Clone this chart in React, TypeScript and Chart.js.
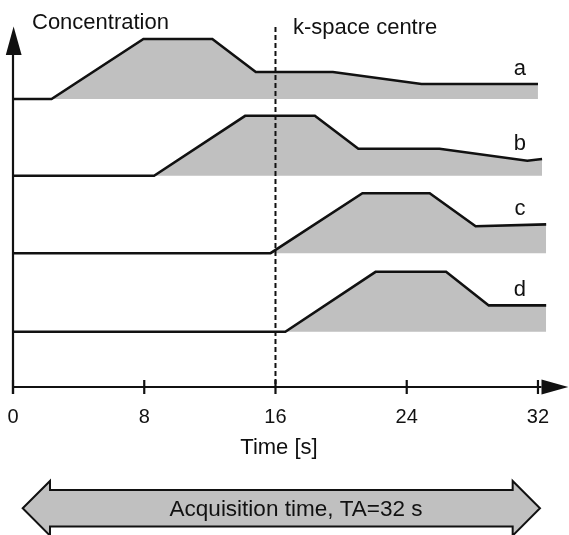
import React, { useEffect, useRef } from 'react';
import { Chart, registerables } from 'chart.js';

Chart.register(...registerables);

// ---- data (time in s, concentration relative to each curve's own baseline; peak = 1) ----
const timeTicks = [0, 8, 16, 24, 32];
const curveNames = ['a', 'b', 'c', 'd'];

const aTimes = [0, 2.35, 7.95, 12.15, 14.8, 19.5, 24.9, 32.0];
const aLevels = [0, 0, 1, 1, 0.45, 0.45, 0.25, 0.25];

const bTimes = [0, 8.6, 14.15, 18.4, 21.05, 26.0, 31.35, 32.25];
const bLevels = [0, 0, 1, 1, 0.45, 0.45, 0.25, 0.28];

const cTimes = [0, 15.7, 21.3, 25.4, 28.2, 32.5];
const cLevels = [0, 0, 1, 1, 0.45, 0.48];

const dTimes = [0, 16.6, 22.1, 26.4, 29.0, 32.5];
const dLevels = [0, 0, 1, 1, 0.44, 0.44];

// each curve is drawn on its own lane of the concentration axis
const laneOffsets = [4.8, 3.52, 2.23, 0.92];

const kSpaceCentre = 16;
const acquisitionTime = 32;
const xMax = 33.8;
const yMax = 6;

const FONT = '"Liberation Sans", Arial, Helvetica, sans-serif';
const INK = '#111111';
const GREY = '#c0c0c0';

const curveTimes = [aTimes, bTimes, cTimes, dTimes];
const curveLevels = [aLevels, bLevels, cLevels, dLevels];

const decorPlugin = {
  id: 'decor',
  afterDraw(chart: any) {
    const { ctx, chartArea } = chart;
    const x = chart.scales.x;
    const y = chart.scales.y;
    ctx.save();
    ctx.strokeStyle = INK;
    ctx.fillStyle = INK;

    // k-space centre dashed line
    const xk = x.getPixelForValue(kSpaceCentre);
    ctx.lineWidth = 2;
    ctx.setLineDash([5, 3]);
    ctx.beginPath();
    ctx.moveTo(xk, chartArea.top);
    ctx.lineTo(xk, chartArea.bottom);
    ctx.stroke();
    ctx.setLineDash([]);

    // x axis with arrow
    const y0 = y.getPixelForValue(0);
    const x0 = x.getPixelForValue(0);
    const xEnd = x.getPixelForValue(xMax);
    ctx.lineWidth = 2.2;
    ctx.beginPath();
    ctx.moveTo(x0, y0);
    ctx.lineTo(xEnd - 26, y0);
    ctx.stroke();
    timeTicks.forEach((t) => {
      const px = x.getPixelForValue(t);
      ctx.beginPath();
      ctx.moveTo(px, y0 - 7);
      ctx.lineTo(px, y0 + 7);
      ctx.stroke();
    });
    ctx.beginPath();
    ctx.moveTo(xEnd + 0.8, y0);
    ctx.lineTo(xEnd - 26, y0 - 7.5);
    ctx.lineTo(xEnd - 26, y0 + 7.5);
    ctx.closePath();
    ctx.fill();

    // y axis with arrow
    const yTop = chartArea.top;
    ctx.beginPath();
    ctx.moveTo(x0, y0 + 7);
    ctx.lineTo(x0, yTop + 27);
    ctx.stroke();
    ctx.beginPath();
    ctx.moveTo(x0 + 0.6, yTop - 0.5);
    ctx.lineTo(x0 - 7.2, yTop + 28);
    ctx.lineTo(x0 + 8.6, yTop + 28);
    ctx.closePath();
    ctx.fill();

    // texts
    ctx.font = `22px ${FONT}`;
    ctx.textAlign = 'left';
    ctx.textBaseline = 'alphabetic';
    ctx.fillText('Concentration', 32, 28.5);
    ctx.fillText('k-space centre', 293, 33.5);

    // curve labels
    chart.data.datasets.forEach((ds: any, i: number) => {
      const meta = chart.getDatasetMeta(i);
      const last = meta.data[meta.data.length - 1];
      ctx.textAlign = 'center';
      ctx.fillText(curveNames[i], x.getPixelForValue(30.9), last.y - 9);
    });

    // Time axis title
    ctx.textAlign = 'center';
    ctx.textBaseline = 'alphabetic';
    ctx.fillText('Time [s]', x.getPixelForValue(kSpaceCentre) + 3.5, 454.3);

    // acquisition time double arrow
    const L = x.getPixelForValue(0) + 9.7;
    const R = x.getPixelForValue(acquisitionTime) + 2;
    const cy = 508.3;
    const head = 27.3;
    const shaft = 18.3;
    ctx.beginPath();
    ctx.moveTo(L, cy);
    ctx.lineTo(L + head, cy - head);
    ctx.lineTo(L + head, cy - shaft);
    ctx.lineTo(R - head, cy - shaft);
    ctx.lineTo(R - head, cy - head);
    ctx.lineTo(R, cy);
    ctx.lineTo(R - head, cy + head);
    ctx.lineTo(R - head, cy + shaft);
    ctx.lineTo(L + head, cy + shaft);
    ctx.lineTo(L + head, cy + head);
    ctx.closePath();
    ctx.fillStyle = GREY;
    ctx.fill();
    ctx.lineWidth = 2;
    ctx.lineJoin = 'miter';
    ctx.strokeStyle = INK;
    ctx.stroke();
    ctx.fillStyle = INK;
    ctx.font = `22.5px ${FONT}`;
    ctx.textAlign = 'center';
    ctx.textBaseline = 'alphabetic';
    ctx.fillText('Acquisition time, TA=32 s', 296, 516);

    ctx.restore();
  },
};

export default function App() {
  const canvasRef = useRef<HTMLCanvasElement | null>(null);

  useEffect(() => {
    const canvas = canvasRef.current;
    if (!canvas) return;
    const datasets = curveTimes.map((times, i) => ({
      label: curveNames[i],
      data: times.map((t, j) => ({ x: t, y: laneOffsets[i] + curveLevels[i][j] })),
      borderColor: INK,
      borderWidth: 2.6,
      backgroundColor: GREY,
      fill: { value: laneOffsets[i] },
      pointRadius: 0,
      tension: 0,
      clip: false,
    }));
    const chart = new Chart(canvas, {
      type: 'line',
      data: { datasets },
      options: {
        responsive: false,
        animation: false,
        devicePixelRatio: 1,
        layout: { padding: { left: 13, right: 1.5, top: 27, bottom: 88 } },
        plugins: {
          legend: { display: false },
          tooltip: { enabled: false },
        },
        scales: {
          x: {
            type: 'linear',
            min: 0,
            max: xMax,
            afterBuildTicks: (s: any) => {
              s.ticks = timeTicks.map((v) => ({ value: v }));
            },
            afterFit: (s: any) => {
              s.paddingLeft = 0;
              s.paddingRight = 0;
            },
            grid: { display: false, drawTicks: false },
            border: { display: false },
            ticks: {
              padding: 18,
              color: INK,
              font: { family: FONT, size: 20 },
              maxRotation: 0,
              autoSkip: false,
              callback: (v: any) => String(v),
            },
          },
          y: {
            type: 'linear',
            display: false,
            min: 0,
            max: yMax,
          },
        },
      },
      plugins: [decorPlugin],
    });
    return () => chart.destroy();
  }, []);

  return (
    <div style={{ position: 'absolute', left: 0, top: 0, width: 569, height: 535, background: '#fff' }}>
      <canvas ref={canvasRef} width={569} height={535} />
    </div>
  );
}
